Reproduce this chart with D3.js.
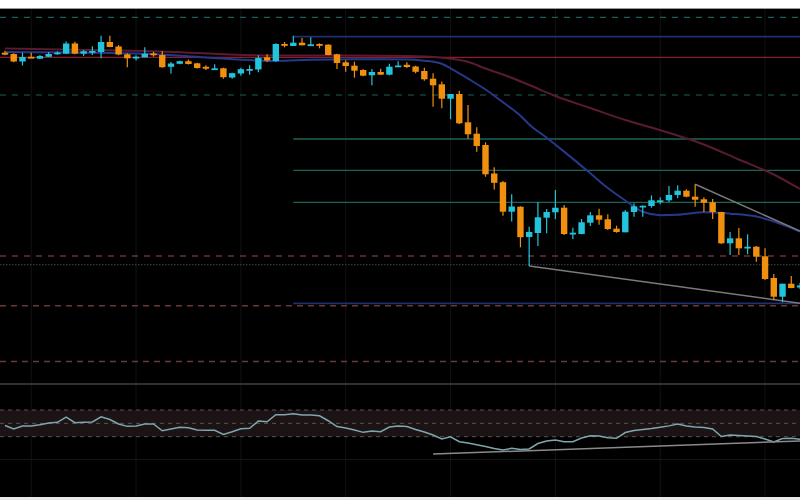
<!DOCTYPE html>
<html><head><meta charset="utf-8">
<script src="https://cdn.jsdelivr.net/npm/d3@7"></script>
<style>html,body{margin:0;padding:0;background:#fff;overflow:hidden}</style>
</head><body><svg id="c" width="800" height="500"></svg>
<script>
// ---- data (price units) ----
const opens  = [347.3,346,338.5,343.2,341.3,343.2,345.7,346.3,356.5,346.3,347.5,348,358,353.5,345.7,341.5,342.7,346.5,345,333.2,336.2,338.8,336.7,333.2,331,331.7,322.5,326.5,330.2,330.5,342.7,339,356,354,357.3,354.7,356,355.3,345.7,337.7,334.3,330,324.7,328,325.3,333.3,335.2,333.5,329,321.3,315.7,301.3,306,277.7,266.3,255,226.5,217.8,188.3,193.3,163,167,182.3,187.7,192.3,166.3,166,177.3,184.7,180.7,171.3,167.7,188,193.3,194,199,199.7,205,209.3,203.3,200.7,197.7,188,156.7,161.7,152.3,153.3,143.7,122,103.3,116.3,112.5];
const highs  = [349.3,346.7,347.3,347.3,345,348,348.7,358.5,358.2,350,353.7,364.3,364.3,355,346.7,344.7,352.8,348.3,349,338,339.3,340.5,337.3,334.7,335.7,332.3,327.3,332.3,334.8,344.8,345.7,356.7,358,364.3,362,362.7,356.7,355.7,346.3,339.7,338.3,330.7,331,331.3,336.3,338.7,337.7,334.3,332.3,326.7,318.5,306,309.3,295,272.7,257.7,232.7,219,205.8,193.7,173.3,198,191,210,195,172.3,181,188,191.3,185.7,174.3,190,196.7,194.5,204.7,202.7,214,214.7,210.7,215.7,202.7,201,188.3,168,172,165.7,154,151.7,126,116.3,124,117];
const lows   = [344.7,337.7,334.5,342.3,341,343,345.3,346,345.7,344,345,341.7,352.7,344.7,332.7,339.5,342.7,343.3,332.2,326.3,335.7,335.5,331.5,330,330.7,321.3,321.3,324.3,325.2,327.8,338,338.3,352.7,354,354.7,354.3,351.7,344.7,331,328.3,322.3,323.7,314.7,325,324.7,333.3,332,326.7,319.3,293.3,291.7,280.7,276,261.2,248.3,223.3,210.5,184.2,178.5,152.7,134,154,166.7,180.7,165,161,165.7,174,175.3,170,167.3,167.7,183.3,183.3,192.3,195.7,198,201.7,202.7,193.3,188,181,156,145,145,145.7,138.3,120,100,97.7,111.7,111];
const closes = [345.3,338.5,343,342.7,344,346,347.5,356.5,346.3,348.8,349,358,353,345.5,341.7,343.3,346.3,344.7,332.8,336.5,338.8,336,332,331.3,331.7,322.8,326.8,330.8,331,342,339.5,356,354.5,357.3,354.7,355.7,354.5,345,337,334,329.3,324.3,328,325.3,333.3,334.5,333,328.2,320.7,314.7,301.3,306,276.7,265.7,254,225.7,217.2,188.3,193.5,162.8,168,182.7,188,192.3,166,167.3,177.7,184.7,180.3,171,168,188.3,193.7,194.3,199.7,199.7,205,209.3,203.3,200.3,197.3,188,156.7,161.7,151.7,153.3,143.3,121,103.3,116.3,112,114.5];

const maFastIdx = [0,8,16,23,29,31,35,40,46,48,50,51,53,55,57,59,60,62,64,67,69,71,73,75,77,80,83,86,89,91];
const maFastVal = [348,347.4,346.3,342.6,339.5,339,340.2,340.7,340.6,339.3,336.2,331.7,321.4,310.5,297.7,284.3,275.6,262.3,248.4,226.7,212,199.5,188.2,184.8,185.2,187.8,186.3,183.4,175.5,168.3];
const maSlowIdx = [0,16,31,38,46,50,53,55,57,60,63,67,71,74,80,84,88,91];
const maSlowVal = [351.6,349.1,344.5,344.5,344,342.3,338.2,331.5,325.5,315,304,292,280,272.5,255.5,240.5,225.5,211];

const rsiValues = [46.7,41.5,46,46,47.8,50.5,51.5,59.5,50.9,51.5,52,59.9,55.7,49,45.5,46,49,49,38.9,41.5,44,43.4,40,39.5,39.5,33.5,37.4,41.9,42.5,53.5,52.4,62.9,62.9,64.4,62.5,62.5,61.4,53.9,45.2,43,40,36.5,38.5,37.4,44.5,46,45.2,40.7,37,32.5,26.5,29.9,22.4,20.5,17.9,15.2,12.2,10,12.5,10.7,11.7,19.7,23.5,25,22.4,22.4,28,31.4,31,28.3,27.5,36.2,39.2,40.7,42.2,44.2,46.2,49,46,44.5,43.7,41.5,30.2,32.5,31.7,31,30.2,26.5,22,27.2,27.5,26];
const rsiBandLevels = [70,50,30];

const tealDashedLevels = [382.7,305];
const tealSolidLevels = [261,229.7,197.7];
const redSolidLevels = [342.7];
const blueSolidLevels = [363.3,96.7];
const redDashedLevels = [144];
const dimRedDashedLevels = [94.3,38.5];
const dottedLevels = [135.3];
const levelStartIdx = 33;

const trendA = [[60,134],[91,96.7]];
const trendB = [[79,215.7],[91,169]];
const rsiTrend = [[49,4],[91,23.5]];
const gridIdx = [3,15,27,39,51,63,75,87];

// ---- drawing ----
const W=800,H=500;
const svg=d3.select('#c');
svg.append('rect').attr('x',0).attr('y',0).attr('width',W).attr('height',H).attr('fill','#ffffff');
svg.append('rect').attr('x',0).attr('y',8).attr('width',W).attr('height',489).attr('fill','#000000');
svg.append('line').attr('x1',0).attr('x2',W).attr('y1',8.5).attr('y2',8.5).attr('stroke','#9a9a9a').attr('stroke-width',1);

const x=d3.scaleLinear().domain([0,91]).range([5,800]);
const y=d3.scaleLinear().domain([0,400]).range([400,0]);
const ry=d3.scaleLinear().domain([0,100]).range([456.7,390]);

const g=svg.append('g');
// vertical grid
g.selectAll('.vg').data(gridIdx).join('line')
 .attr('x1',d=>x(d)).attr('x2',d=>x(d)).attr('y1',9).attr('y2',497)
 .attr('stroke','#121212').attr('stroke-width',1);

// RSI panel
g.append('line').attr('x1',0).attr('x2',W).attr('y1',384).attr('y2',384).attr('stroke','#3c4452').attr('stroke-width',1.5);
g.append('line').attr('x1',0).attr('x2',W).attr('y1',459.5).attr('y2',459.5).attr('stroke','#161616').attr('stroke-width',1);
g.append('rect').attr('x',0).attr('width',W).attr('y',ry(rsiBandLevels[0])).attr('height',ry(rsiBandLevels[2])-ry(rsiBandLevels[0])).attr('fill','#1c1414');
g.selectAll('.rb').data(rsiBandLevels).join('line')
 .attr('x1',0).attr('x2',W).attr('y1',d=>ry(d)).attr('y2',d=>ry(d))
 .attr('stroke','#5c5252').attr('stroke-width',1).attr('stroke-dasharray','4,4');

// levels
function hl(levels,color,dash,start,width){
  g.selectAll(null).data(levels).join('line')
   .attr('x1',start).attr('x2',W).attr('y1',d=>y(d)).attr('y2',d=>y(d))
   .attr('stroke',color).attr('stroke-width',width||1).attr('stroke-dasharray',dash||null);
}
hl(tealDashedLevels,'#1e5c5c','6,6',0,1.2);
hl(redDashedLevels,'#a04a4a','6,6',0,1.2);
hl(dimRedDashedLevels,'#6a3838','6,5',0,1.5);
hl(dottedLevels,'#383838','1.5,1.5',0,1.2);
hl(redSolidLevels,'#a8283a','',0,1);
hl(tealSolidLevels,'#1d6458','',x(levelStartIdx),1.3);
hl(blueSolidLevels,'#1f2f72','',x(levelStartIdx),1.8);

// moving averages
const line=d3.line().x(d=>x(d[0])).y(d=>y(d[1])).curve(d3.curveMonotoneX);
g.append('path').datum(maSlowIdx.map((d,i)=>[d,maSlowVal[i]])).attr('d',line)
 .attr('fill','none').attr('stroke','#5a1a30').attr('stroke-width',2);
g.append('path').datum(maFastIdx.map((d,i)=>[d,maFastVal[i]])).attr('d',line)
 .attr('fill','none').attr('stroke','#27388a').attr('stroke-width',2);

// trendlines
[trendA,trendB].forEach(t=>{
  g.append('line').attr('x1',x(t[0][0])).attr('y1',y(t[0][1])).attr('x2',x(t[1][0])).attr('y2',y(t[1][1]))
   .attr('stroke','#7a7a7a').attr('stroke-width',1.5);
});

// candles
const up='#22c4dc', down='#f0900e';
const idx=d3.range(opens.length);
const cg=g.append('g');
cg.selectAll('.w').data(idx).join('line')
 .attr('x1',i=>x(i)).attr('x2',i=>x(i)).attr('y1',i=>y(highs[i])).attr('y2',i=>y(lows[i]))
 .attr('stroke',i=>closes[i]>=opens[i]?up:down).attr('stroke-width',1.2);
cg.selectAll('.b').data(idx).join('rect')
 .attr('x',i=>x(i)-3.2).attr('width',6.4)
 .attr('y',i=>y(Math.max(opens[i],closes[i])))
 .attr('height',i=>Math.max(1.8,Math.abs(y(opens[i])-y(closes[i]))))
 .attr('fill',i=>closes[i]>=opens[i]?up:down);

// RSI line
const rline=d3.line().x((d,i)=>x(i)).y(d=>ry(d));
g.append('path').datum(rsiValues).attr('d',rline).attr('fill','none').attr('stroke','#7fa6ae').attr('stroke-width',1.5);
g.append('line').attr('x1',x(rsiTrend[0][0])).attr('y1',ry(rsiTrend[0][1])).attr('x2',x(rsiTrend[1][0])).attr('y2',ry(rsiTrend[1][1]))
 .attr('stroke','#8a8a8a').attr('stroke-width',1.5);

svg.append('rect').attr('x',0).attr('y',497).attr('width',W).attr('height',3).attr('fill','#e8e8e8');
</script></body></html>
